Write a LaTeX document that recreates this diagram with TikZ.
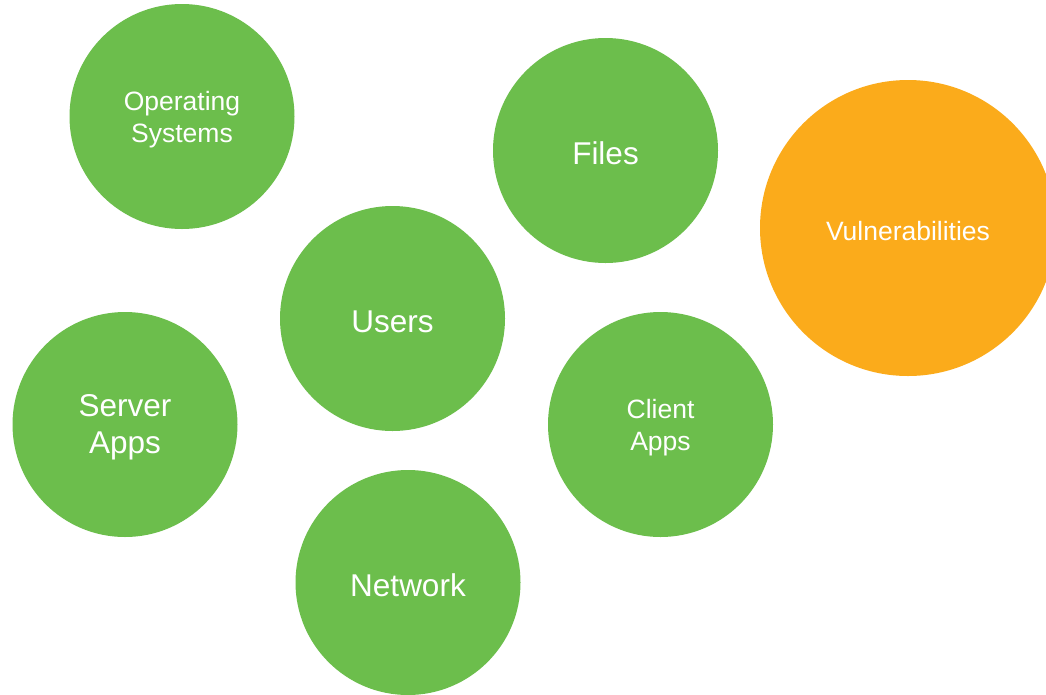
\documentclass[tikz,border=0pt]{standalone}
\usepackage{fontspec}
\setmainfont{Liberation Sans}
\definecolor{leaf}{HTML}{6CBE4C}
\definecolor{amber}{HTML}{FBAB1B}
\begin{document}
\begin{tikzpicture}[x=1pt,y=-1pt,
  bubble/.style={circle,fill=leaf,draw=none,inner sep=0pt,minimum size=225pt},
  caption/.style={text=white,align=center,inner sep=0pt},
  bigtext/.style={caption,font=\fontsize{31.5}{37}\selectfont},
  smalltext/.style={caption,font=\fontsize{26.5}{32}\selectfont}]
\useasboundingbox (0,0) rectangle (1046,694);
\clip (0,0) rectangle (1046,694);
\fill[white] (0,0) rectangle (1046,694);
% circles
\node[bubble] (os) at (182,116.5) {};
\node[bubble] (files) at (605.5,150.5) {};
\node[bubble,fill=amber,minimum size=296pt] (vuln) at (908,228) {};
\node[bubble] (users) at (392.5,318.5) {};
\node[bubble] (server) at (125,424.5) {};
\node[bubble] (client) at (660.5,424.5) {};
\node[bubble] (network) at (408,582.5) {};
% captions, set slightly below each centre
\node[smalltext] (osT) at ([yshift=-3pt]os.center) {Operating\\Systems};
\node[bigtext] (filesT) at ([yshift=-3pt]files.center) {Files};
\node[smalltext] (vulnT) at ([yshift=-3pt]vuln.center) {Vulnerabilities};
\node[bigtext] (usersT) at ([yshift=-3pt]users.center) {Users};
\node[bigtext] (serverT) at ([yshift=-3pt]server.center) {Server\\Apps};
\node[smalltext] (clientT) at ([yshift=-3pt]client.center) {Client\\Apps};
\node[bigtext] (networkT) at ([yshift=-3pt]network.center) {Network};
\end{tikzpicture}
\end{document}
